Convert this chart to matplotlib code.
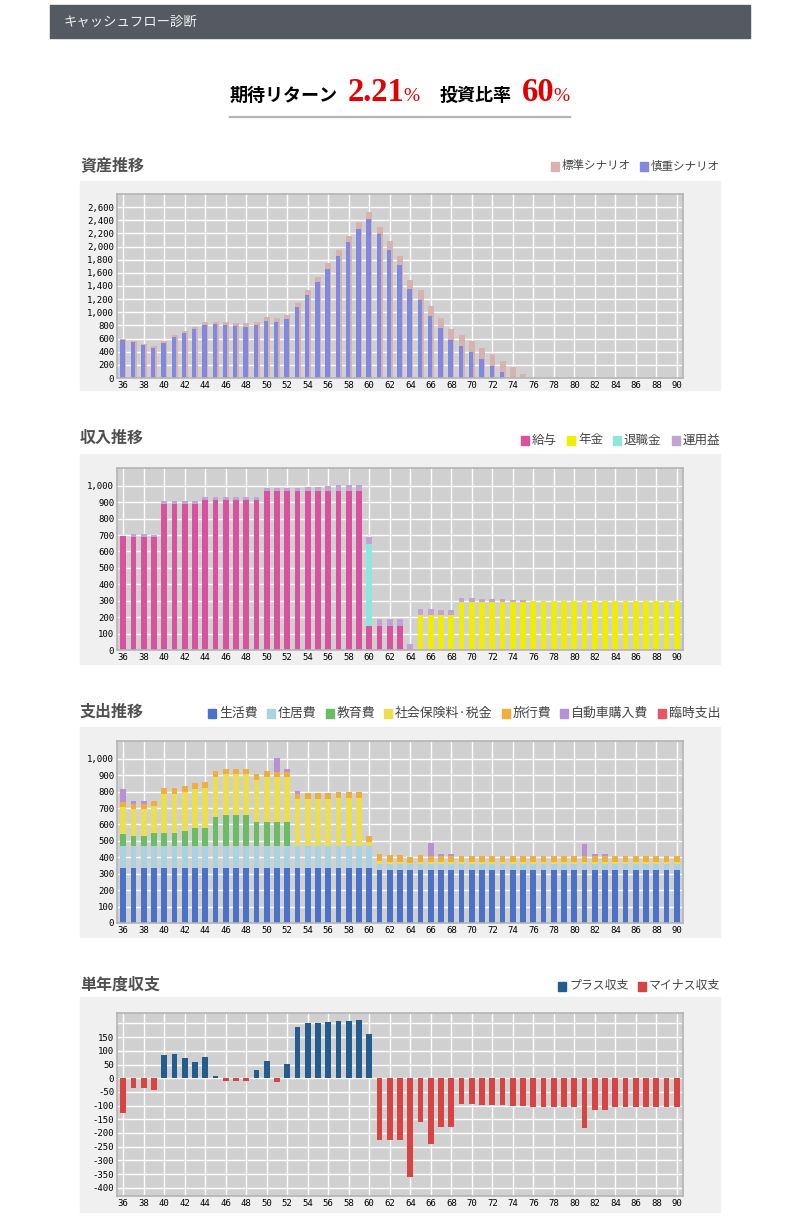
import matplotlib
matplotlib.use('Agg')
import matplotlib.pyplot as plt
from matplotlib.patches import Rectangle
import numpy as np

plt.rcParams['font.family'] = ['Noto Sans CJK JP', 'DejaVu Sans']

ages = list(range(36, 91))

# 資産推移
asset_std = [590, 565, 519, 483, 560, 651, 712, 773, 850, 850, 850, 834, 834, 850, 926, 911, 957,
             1140, 1338, 1537, 1750, 1949, 2162, 2376, 2529, 2300, 2086, 1857, 1491, 1338, 1094,
             911, 743, 651, 560, 453, 361, 254, 163, 56] + [0] * 15
asset_cau = [580, 544, 499, 453, 529, 621, 682, 743, 809, 824, 809, 789, 773, 809, 865, 850, 895,
             1079, 1262, 1460, 1659, 1857, 2071, 2269, 2422, 2198, 1949, 1720, 1353, 1185, 941,
             758, 575, 483, 392, 285, 178, 86] + [0] * 17

# 収入推移
inc_salary = [695] + [690] * 3 + [890] * 4 + [915] * 6 + [970] * 10 + [146] * 4 + [0] * 27
inc_pension = [0] * 29 + [213] * 4 + [293] * 7 + [299] * 15
inc_retire = [0] * 24 + [500] + [0] * 30
inc_invest = ([0] + [17, 17, 11] + [18] * 4 + [18] * 6 + [18] * 4 + [24] * 2 + [30] + [36] * 3 +
              [43] + [43] * 3 + [37] + [37] * 2 + [31] * 2 + [24] * 2 + [18] * 3 + [12] * 2 + [0] * 15)

# 支出推移
exp_living = [336] * 25 + [324] * 30
exp_housing = [134] * 25 + [36] * 30
exp_edu = [73, 60, 60, 79, 79, 79, 91, 109, 109, 176, 188, 188, 188, 145, 145, 145, 145] + [0] * 38
exp_tax = [163, 164, 164, 164, 236, 236, 237, 237, 243, 243, 249, 249, 249, 255, 274, 274, 274,
           285, 285, 285, 285, 291, 291, 291, 24, 19, 12, 12, 6] + [12] * 26
exp_travel = [31, 31, 31, 30, 37, 37, 36, 36, 36, 36, 30, 30, 30, 37, 36, 30, 30, 30,
              36, 36, 36, 37, 37, 37, 36, 43, 43, 43, 37, 43] + [37] * 25
exp_car = [0] * 55
for a, v in [(36, 79), (37, 18), (38, 18), (51, 85), (52, 18), (53, 19), (66, 79), (67, 12),
             (68, 12), (81, 73), (82, 12), (83, 12)]:
    exp_car[a - 36] = v
exp_temp = [0] * 55

# 単年度収支
balance = [-127, -35, -35, -43, 85, 89, 74, 60, 78, 9, -10, -10, -10, 30, 63, -13, 52, 188,
           202, 202, 206, 210, 210, 213, 162, -226, -226, -226, -361, -160, -240, -178, -178,
           -94, -94, -98, -98, -98, -101, -101, -105, -105, -105, -105, -105, -182, -116, -116,
           -105, -105, -105, -105, -105, -105, -105]

W, H = 800, 1230
fig = plt.figure(figsize=(W / 100, H / 100), dpi=100)
renderer = fig.canvas.get_renderer()
bg = fig.add_axes([0, 0, 1, 1])
bg.set_xlim(0, W)
bg.set_ylim(H, 0)
bg.axis('off')


def width_px(txt):
    return txt.get_window_extent(renderer=renderer).width


# header
bg.add_patch(Rectangle((50, 5), 700, 33, color='#535a61'))
bg.text(64, 21.5, 'キャッシュフロー診断', color='#f0f0f0', fontsize=9.6, va='center')

# title line: pieces laid out left to right
pieces = [('期待リターン', dict(fontsize=13, fontweight='bold'), 10),
          ('2.21', dict(fontsize=23.5, fontweight='bold', color='#e00000', family='Liberation Serif'), -1),
          ('%', dict(fontsize=14, color='#e00000', family='Liberation Serif'), 20),
          ('投資比率', dict(fontsize=13, fontweight='bold'), 10),
          ('60', dict(fontsize=23.5, fontweight='bold', color='#e00000', family='Liberation Serif'), -1),
          ('%', dict(fontsize=14, color='#e00000', family='Liberation Serif'), 0)]
cx = 230
for s, kw, gap in pieces:
    tt = bg.text(cx, 101, s, va='baseline', **kw)
    cx += width_px(tt) + gap
bg.plot([230, 570], [116.5, 116.5], color='#b4b4b4', lw=1.6)


def legend(items, y, fs, right=720, gap=9):
    cx = right
    for color, label in reversed(items):
        tt = bg.text(cx, y, label, fontsize=fs, color='#444444', va='center', ha='right')
        cx -= width_px(tt) + 3
        bg.add_patch(Rectangle((cx - 8, y - 4.5), 8, 9, color=color))
        cx -= 8 + gap


def panel(y0, y1, title, ty):
    bg.add_patch(Rectangle((80, y0), 640, y1 - y0, color='#f0f0f0'))
    bg.text(80, ty, title, fontsize=11.5, fontweight='bold', color='#505050', va='center')


def make_ax(top, bottom, ylim, yticks, ylabels):
    ax = fig.add_axes([117 / W, 1 - bottom / H, 566 / W, (bottom - top) / H])
    ax.set_facecolor('#d0d0d0')
    ax.set_xlim(35.4, 90.6)
    ax.set_ylim(*ylim)
    ax.set_xticks(range(36, 91, 2))
    ax.set_xticklabels([str(a) for a in range(36, 91, 2)], family='DejaVu Sans Mono',
                       fontsize=6.5)
    ax.set_yticks(yticks)
    ax.set_yticklabels(ylabels, family='DejaVu Sans Mono', fontsize=6.5)
    ax.tick_params(length=0, pad=2)
    ax.grid(True, color='white', lw=1.0)
    ax.set_axisbelow(True)
    for s in ax.spines.values():
        s.set_color('#b4b4b4')
        s.set_linewidth(1.2)
    return ax


x = np.array(ages)

# 資産推移
panel(181, 390, '資産推移', 165)
legend([('#d8b2b0', '標準シナリオ'), ('#8088e0', '慎重シナリオ')], 166, 8.3)
t = list(range(0, 2601, 200))
ax1 = make_ax(194, 378, (0, 2800), t, [f'{v:,}' for v in t])
ax1.bar(x - 0.27, asset_std, width=0.58, align='edge', color='#d8b2b0')
ax1.bar(x - 0.27, asset_cau, width=0.42, align='edge', color='#8088e0')

# 収入推移
panel(454, 664, '収入推移', 438)
legend([('#d9519f', '給与'), ('#f0ee00', '年金'), ('#90e6dc', '退職金'),
        ('#c2a4d4', '運用益')], 440, 9, gap=10)
t = list(range(0, 1001, 100))
ax2 = make_ax(468, 650, (0, 1108), t, [f'{v:,}' for v in t])
bottom = np.zeros(len(ages))
for vals, c in [(inc_salary, '#d9519f'), (inc_pension, '#f0ee00'), (inc_retire, '#90e6dc'),
                (inc_invest, '#c2a4d4')]:
    ax2.bar(x, vals, width=0.56, bottom=bottom, color=c)
    bottom += np.array(vals)

# 支出推移
panel(727, 937, '支出推移', 712)
exp_cols = ['#4a72c8', '#a9d3e3', '#6abd62', '#ebdf4e', '#f0ae3c', '#b890d6', '#e85563']
exp_names = ['生活費', '住居費', '教育費', '社会保険料·税金', '旅行費', '自動車購入費', '臨時支出']
legend(list(zip(exp_cols, exp_names)), 713, 9.3)
ax3 = make_ax(741, 923, (0, 1108), t, [f'{v:,}' for v in t])
bottom = np.zeros(len(ages))
for vals, c in zip([exp_living, exp_housing, exp_edu, exp_tax, exp_travel, exp_car, exp_temp],
                   exp_cols):
    ax3.bar(x, vals, width=0.56, bottom=bottom, color=c)
    bottom += np.array(vals)

# 単年度収支
panel(997, 1212, '単年度収支', 985)
legend([('#235c8e', 'プラス収支'), ('#d84343', 'マイナス収支')], 986, 8.6)
t = list(range(-400, 201, 50))
ax4 = make_ax(1013, 1196, (-430, 238), t, [str(v) if v < 200 else '' for v in t])
bal = np.array(balance)
ax4.bar(x, np.where(bal > 0, bal, 0), width=0.56, color='#235c8e')
ax4.bar(x, np.where(bal < 0, bal, 0), width=0.56, color='#d84343')

fig.savefig('out.png', dpi=100)
